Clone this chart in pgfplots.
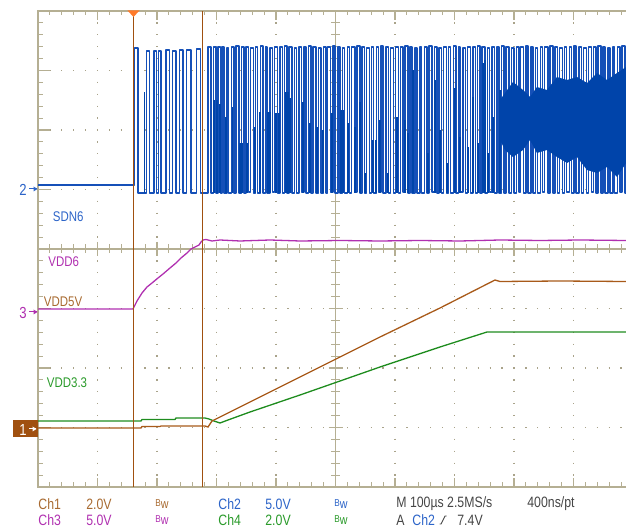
\documentclass[border=0pt]{standalone}
\usepackage{pgfplots}
\pgfplotsset{compat=1.18}
\usepackage{fontspec}
\setmainfont{Liberation Sans}[FakeStretch=0.82]

\definecolor{grat}{HTML}{B5AF93}
\definecolor{gdot}{HTML}{A9A38A}
\definecolor{ch1}{HTML}{A85A1A}
\definecolor{ch1t}{HTML}{A86A30}
\definecolor{ch2}{HTML}{1550B8}
\definecolor{ch2d}{HTML}{0044AA}
\definecolor{ch2t}{HTML}{2C64C8}
\definecolor{ch3}{HTML}{B030B0}
\definecolor{ch4}{HTML}{1E8C1E}
\definecolor{ch4t}{HTML}{2A9A2A}
\definecolor{cursor}{HTML}{A0500F}
\definecolor{trig}{HTML}{FF7A2A}
\definecolor{stat}{HTML}{454545}

\begin{document}
\begin{tikzpicture}
\useasboundingbox (0,0) rectangle (313pt,264.5pt);
\clip (0,0) rectangle (313pt,264.5pt);

% graticule, in screen pixels (1px = 0.5pt, y down)
\begin{scope}[x=0.5pt,y=-0.5pt,yshift=264.5pt]
  \tikzset{gdots/.style={gdot,line width=0.65pt,dash pattern=on 0.65pt off 5.3pt,dash phase=0.325pt}}
  \foreach \gx in {97.5,157,216.5,276,395,454.5,514,573.5}
    \draw[gdots] (\gx,11) -- (\gx,487);
  \foreach \gy in {70.5,130,189.5,308.5,368,427.5}
    \draw[gdots] (38,\gy) -- (633,\gy);
  \draw[grat,line width=0.55pt] (335.5,11) -- (335.5,487);
  \draw[grat,line width=0.55pt] (38,249) -- (633,249);
  \foreach \k in {0,...,50} {
    \pgfmathsetmacro\tx{38+11.9*\k}
    \draw[grat,line width=0.55pt] (\tx,11) -- (\tx,15.5);
    \draw[grat,line width=0.55pt] (\tx,487) -- (\tx,482.5);
    \draw[grat,line width=0.55pt] (\tx,244.5) -- (\tx,253.5);
  }
  \foreach \k in {0,...,10} {
    \pgfmathsetmacro\tx{38+59.5*\k}
    \draw[grat,line width=0.55pt] (\tx,11) -- (\tx,20);
    \draw[grat,line width=0.55pt] (\tx,487) -- (\tx,478);
    \draw[grat,line width=0.55pt] (\tx,242) -- (\tx,256);
  }
  \foreach \k in {0,...,40} {
    \pgfmathsetmacro\ty{11+11.9*\k}
    \draw[grat,line width=0.55pt] (38,\ty) -- (42.5,\ty);
    \draw[grat,line width=0.55pt] (331,\ty) -- (340,\ty);
  }
  \foreach \k in {0,...,8} {
    \pgfmathsetmacro\ty{11+59.5*\k}
    \draw[grat,line width=0.55pt] (38,\ty) -- (50,\ty);
    \draw[grat,line width=0.55pt] (328.5,\ty) -- (342.5,\ty);
  }
  \draw[grat,line width=0.8pt] (38,11) rectangle (633,487);
\end{scope}

\begin{axis}[
  at={(167.75pt,140pt)}, anchor=center,
  scale only axis, width=297.5pt, height=238pt,
  xmin=38, xmax=633, ymin=11, ymax=487, y dir=reverse,
  hide axis,
]
% Ch2 SDN6
\addplot[ch2, line width=0.75pt, const plot mark left, line join=round] coordinates {
(38,185) (134.3,48) (137.8,193) (146.5,51) (149.5,193) (154,51) (156.5,193) (158.5,51) (161,193)
(166,50) (169.5,193) (172.5,51) (176,193) (179.5,50) (183,193) (186.5,50) (191,193) (196.5,49)
(200.5,193) (208,47) (211,193) (213.5,47) (216,193) (218,47) (220.5,193)
(222,47) (224.2,193) (226.8,48) (228.6,193) (231.5,47) (233.9,193) (235.9,46) (239,193)
(241.3,47) (244,193) (246.1,47) (248.6,192) (250.5,48) (253.5,193) (255.7,47) (257.7,193)
(260.6,46) (262.8,193) (265.4,47) (267.2,193) (270.1,48) (272.5,192) (274.5,47) (277.6,193)
(279.9,47) (282.6,193) (284.7,46) (287.2,193) (289.1,47) (292.1,193) (294.3,48) (296.3,193)
(299.2,47) (301.4,192) (304,47) (305.8,193) (308.7,46) (311.1,193) (313.1,47) (316.2,193)
(318.5,48) (321.2,193) (323.3,47) (325.8,193) (327.7,47) (330.7,192) (332.9,46) (334.9,193)
(337.8,47) (340,193) (342.6,48) (344.4,193) (347.3,47) (349.7,193) (351.7,47) (354.8,192)
(357.1,46) (359.8,193) (361.9,47) (364.4,193) (366.3,48) (369.3,193) (371.5,47) (373.5,193)
(376.4,47) (378.6,192) (381.2,46) (383,193) (385.9,47) (388.3,193) (390.3,48) (393.4,193)
(395.7,47) (398.4,193) (400.5,47) (403,192) (404.9,46) (407.9,193) (410.1,47) (412.1,193)
(415,48) (417.2,193) (419.8,47) (421.6,193) (424.5,47) (426.9,193) (428.9,46) (432,192)
(434.3,47) (437,193) (439.1,48) (441.6,193) (443.5,47) (446.5,193) (448.7,47) (450.7,193)
(453.6,46) (455.8,193) (458.4,47) (460.2,192) (463.1,48) (465.5,193) (467.5,47) (470.6,193)
(472.9,47) (475.6,193) (477.7,46) (480.2,193) (482.1,47) (485.1,193) (487.3,48) (489.3,192)
(492.2,47) (494.4,193) (497,47) (498.8,193) (501.7,46) (504.1,193) (506.1,47) (509.2,193)
(511.5,48) (514.2,193) (516.3,47) (518.8,192) (520.7,47) (523.7,193) (525.9,46) (527.9,193)
(530.8,47) (533,193) (535.6,48) (537.4,193) (540.3,47) (542.7,192) (544.7,47) (547.8,193)
(550.1,46) (552.8,193) (554.9,47) (557.4,193) (559.3,48) (562.3,193) (564.5,47) (566.5,192)
(569.4,47) (571.6,193) (574.2,46) (576,193) (578.9,47) (581.3,193) (583.3,48) (586.4,193)
(588.7,47) (591.4,192) (593.5,47) (596,193) (597.9,46) (600.9,193) (603.1,47) (605.1,193)
(608,48) (610.2,193) (612.8,47) (614.6,193) (617.5,47) (619.9,192) (621.9,46) (625,193)
(626,193)
};
% dense toggling seen as solid blocks
\addplot[ch2d, line width=0.9pt, unbounded coords=jump] coordinates {
(144.5,193) (144.5,92) (144.5,nan) (214,193) (214,100) (214,nan) (217,193) (217,100) (217,nan)
(220,193) (220,104) (220,nan) (226,193) (226,117) (226,nan) (232.5,193) (232.5,107) (232.5,nan)
(240,193) (240,143) (240,nan) (242,193) (242,143) (242,nan) (247,193) (247,143) (247,nan)
(255,193) (255,127) (255,nan) (260,193) (260,112) (260,nan) (268,193) (268,112) (268,nan)
(270,193) (270,112) (270,nan) (276,193) (276,113) (276,nan) (279,193) (279,113) (279,nan)
(286,193) (286,92) (286,nan) (288,193) (288,92) (288,nan) (290,193) (290,98) (290,nan)
(303,193) (303,102) (303,nan) (310,193) (310,123) (310,nan) (317,193) (317,127) (317,nan)
(323,193) (323,130) (323,nan) (332,193) (332,113) (332,nan) (341,193) (341,110) (341,nan)
(343,193) (343,110) (343,nan) (348,193) (348,123) (348,nan) (355,193) (355,127) (355,nan)
(360,193) (360,102) (360,nan) (365,193) (365,173) (365,nan) (373,193) (373,140) (373,nan)
(376,193) (376,140) (376,nan) (380,193) (380,120) (380,nan) (388,193) (388,173) (388,nan)
(397,193) (397,117) (397,nan) (405,193) (405,120) (405,nan) (408,193) (408,133) (408,nan)
(413,193) (413,70) (413,nan) (428,193) (428,153) (428,nan) (435,193) (435,80) (435,nan)
(440,193) (440,130) (440,nan) (447,193) (447,163) (447,nan) (455,193) (455,88) (455,nan)
(460,193) (460,137) (460,nan) (468,193) (468,147) (468,nan) (473,193) (473,97) (473,nan)
(478,193) (478,143) (478,nan) (483,193) (483,63) (483,nan) (485,193) (485,60) (485,nan)
(488,193) (488,153) (488,nan) (493,193) (493,117) (493,nan) (500,193) (500,90)
};
% noisy band at the right
\addplot[draw=none, fill=ch2d] coordinates {
(500,100) (505,93) (513,82) (523,90) (530,97) (537,87) (547,90) (557,77) (567,80) (577,77)
(587,83) (597,73) (607,80) (617,73) (626,67)
(626,163) (617,177) (607,167) (597,173) (587,170) (577,157) (567,163) (557,157) (547,150)
(537,153) (530,140) (523,150) (513,157) (505,150) (500,140)
} -- cycle;
% Ch3 VDD6
\addplot[ch3, line width=0.65pt] coordinates {
(38,309) (133,309) (137,301) (142,293) (147,287) (152,283) (158,278) (163,274) (170,268)
(176,263) (181,258) (187,253) (191,249) (195,247) (199,245) (201,242) (203,240) (206,239.5)
(212,241) (220,240) (240,241) (270,240) (300,241) (340,240.5) (380,241) (420,240.5) (460,241)
(500,240) (540,240.5) (580,240) (626,240.5)
};
% Ch4 VDD3.3
\addplot[ch4, line width=0.65pt] coordinates {
(38,421) (141,421) (142,419.5) (175,419.5) (176,418) (205,418) (209,419) (214,421) (220,423)
(228,420) (250,412) (300,395) (380,367) (440,347) (487,332) (626,332)
};
% Ch1 VDD5V
\addplot[ch1, line width=0.65pt] coordinates {
(38,428) (141,428) (142,426.5) (160,426.5) (161,426) (205,426) (208,427) (212,421) (250,402)
(300,377) (380,337) (440,308) (495,280) (500,281.5) (560,281) (626,281.5)
};
\end{axis}

\begin{scope}[x=0.5pt,y=-0.5pt,yshift=264.5pt]
  % cursors and trigger mark
  \draw[cursor,line width=0.65pt] (133.3,11) -- (133.3,487);
  \draw[cursor,line width=0.65pt] (202.5,11) -- (202.5,487);
  \fill[trig] (127.5,10.5) -- (139.5,10.5) -- (133.5,17) -- cycle;
  % channel ground markers
  \node[ch2t,font=\fontsize{8pt}{8pt}\selectfont,inner sep=0] at (23,190) {2};
  \draw[ch2t,line width=0.5pt] (29,189) -- (37,189);
  \fill[ch2t] (37.5,189) -- (33.5,186.5) -- (33.5,191.5) -- cycle;
  \node[ch3,font=\fontsize{8pt}{8pt}\selectfont,inner sep=0] at (23,313) {3};
  \draw[ch3,line width=0.5pt] (29,312) -- (37,312);
  \fill[ch3] (37.5,312) -- (33.5,309.5) -- (33.5,314.5) -- cycle;
  \fill[cursor] (12.5,420.5) rectangle (37.5,437.5);
  \node[white,font=\fontsize{8pt}{8pt}\selectfont,inner sep=0] at (23,429.5) {1};
  \draw[white,line width=0.5pt] (29,429) -- (36,429);
  \fill[white] (36.5,429) -- (32.5,426.5) -- (32.5,431.5) -- cycle;
  % trace names
  \tikzset{lab/.style={font=\fontsize{7pt}{7pt}\selectfont,inner sep=0,anchor=west}}
  \node[lab,ch2t] at (52.5,217) {SDN6};
  \node[lab,ch3] at (48,262) {VDD6};
  \node[lab,ch1t] at (43.5,302) {VDD5V};
  \node[lab,ch4t] at (46.5,383) {VDD3.3};
  % status lines
  \tikzset{st/.style={font=\fontsize{7.5pt}{7.5pt}\selectfont,inner sep=0,anchor=west},
    bw/.style={font=\fontsize{7.5pt}{7.5pt}\selectfont,inner sep=0,anchor=west}}
  \newcommand\bwsym{\raisebox{1.2pt}{\fontsize{5pt}{5pt}\selectfont B}{\fontsize{6.5pt}{6.5pt}\selectfont w}}
  \node[st,ch1t] at (38,504) {Ch1};
  \node[st,ch1t] at (86,504) {2.0V};
  \node[bw,ch1t] at (155,504) {\bwsym};
  \node[st,ch2t] at (218,504) {Ch2};
  \node[st,ch2t] at (265,504) {5.0V};
  \node[bw,ch2t] at (334,504) {\bwsym};
  \node[st,stat] at (396,504) {M 100µs 2.5MS/s};
  \node[st,stat] at (527,504) {400ns/pt};
  \node[st,ch3] at (38,520) {Ch3};
  \node[st,ch3] at (86,520) {5.0V};
  \node[bw,ch3] at (155,520) {\bwsym};
  \node[st,ch4t] at (218,520) {Ch4};
  \node[st,ch4t] at (265,520) {2.0V};
  \node[bw,ch4t] at (334,520) {\bwsym};
  \node[st,stat] at (396,520) {A};
  \node[st,ch2t] at (412,520) {Ch2};
  \draw[stat,line width=0.45pt] (439.5,524) -- (441,524) -- (445,516) -- (446.5,516);
  \node[st,stat] at (457,520) {7.4V};
\end{scope}
\end{tikzpicture}
\end{document}
